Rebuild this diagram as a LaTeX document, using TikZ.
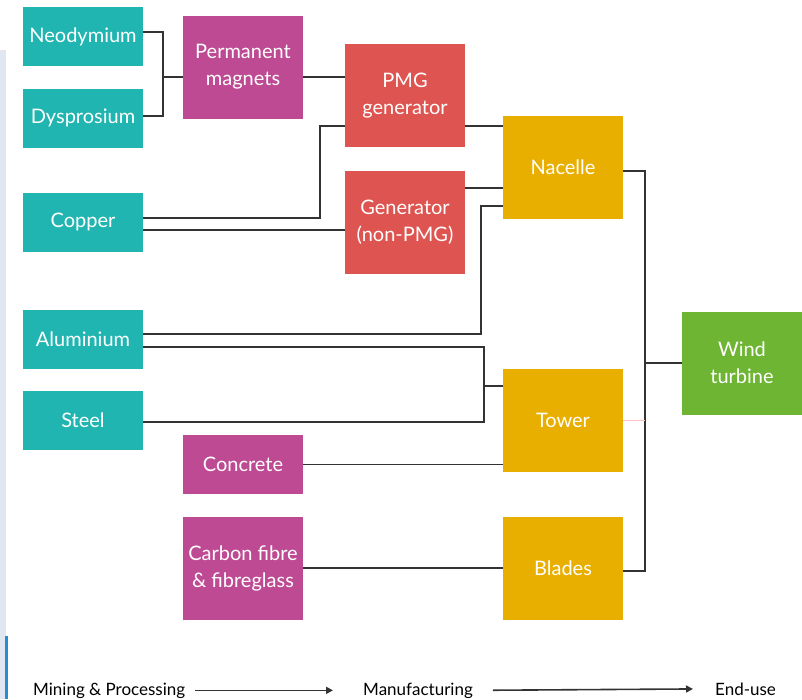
\documentclass[tikz,border=0pt]{standalone}
\usepackage{fontspec}
\setmainfont{Lato}
\usetikzlibrary{arrows.meta}
\definecolor{cteal}{HTML}{21B5B1}
\definecolor{cmag}{HTML}{BE4A93}
\definecolor{cred}{HTML}{DE5450}
\definecolor{cyel}{HTML}{E8AE00}
\definecolor{cgrn}{HTML}{6DB533}
\definecolor{cline}{HTML}{333333}
\definecolor{cstrip}{HTML}{E0E7F0}
\definecolor{cblue}{HTML}{2B8BD0}
\begin{document}
\begin{tikzpicture}[x=1pt,y=-1pt,
  box/.style={draw=none, minimum width=120pt, text=white, inner sep=0pt,
    font=\fontsize{20}{27}\selectfont, align=center},
  small/.style={box, minimum height=59pt},
  big/.style={box, minimum height=103pt},
  conn/.style={draw=cline, line width=1.8pt},
  lab/.style={inner sep=0pt, font=\fontsize{17}{20}\selectfont, text=black},
  arr/.style={draw=cline, line width=1.6pt, -{Triangle[length=7pt,width=7pt]}}]
\useasboundingbox (0,0) rectangle (802,699);
% screenshot edge
\fill[cstrip] (0,50) rectangle (6,699);
\fill[cblue] (5,636) rectangle (7.5,699);
% nodes
\node[small, fill=cteal] (neo) at (83,36.5) {Neodymium};
\node[small, fill=cteal] (dys) at (83,118) {Dysprosium};
\node[small, fill=cteal] (cu) at (83,222) {Copper};
\node[small, fill=cteal] (al) at (83,339) {Aluminium};
\node[small, fill=cteal] (st) at (83,420) {Steel};
\node[big, fill=cmag] (pm) at (243,67) {Permanent\\magnets};
\node[small, fill=cmag] (con) at (243,464.5) {Concrete};
\node[big, fill=cmag] (cf) at (243,568) {Carbon fibre\\\& fibreglass};
\node[big, fill=cred] (pmg) at (405,95.5) {PMG\\generator};
\node[big, fill=cred] (gen) at (405,222) {Generator\\(non-PMG)};
\node[big, fill=cyel] (nac) at (563,167) {Nacelle};
\node[big, fill=cyel] (tow) at (563,420) {Tower};
\node[big, fill=cyel] (bl) at (563,568) {Blades};
\node[big, fill=cgrn] (wt) at (742,363) {Wind\\turbine};
% routing points
\coordinate (a1) at (163,32);
\coordinate (a2) at (163,116);
\coordinate (a3) at (163,77);
\coordinate (c1) at (320,218);
\coordinate (c2) at (320,126);
\coordinate (c3) at (0,230);
\coordinate (g1) at (0,188);
\coordinate (al1) at (481,334);
\coordinate (al2) at (481,206);
\coordinate (t1) at (484,347);
\coordinate (t2) at (484,422);
\coordinate (t3) at (484,386);
\coordinate (r1) at (645,171);
\coordinate (r2) at (645,571);
\coordinate (r3) at (645,363);
\coordinate (r4) at (645,420);
% connectors
\draw[conn] (neo.east |- a1) -- (a1) -- (a2) -- (dys.east |- a2);
\draw[conn] (a3) -- (pm.west |- a3);
\draw[conn] (pm.east |- a3) -- (pmg.west |- a3);
\draw[conn] (cu.east |- c1) -- (c1) -- (c2) -- (pmg.west |- c2);
\draw[conn] (cu.east |- c3) -- (gen.west |- c3);
\draw[conn] (pmg.east |- c2) -- (nac.west |- c2);
\draw[conn] (gen.east |- g1) -- (nac.west |- g1);
\draw[conn] (al.east |- al1) -- (al1) -- (al2) -- (nac.west |- al2);
\draw[conn] (al.east |- t1) -- (t1) -- (t2) -- (st.east |- t2);
\draw[conn] (t3) -- (tow.west |- t3);
\draw[conn] (con.east) -- (tow.west |- con.east);
\draw[conn] (cf.east) -- (bl.west);
\draw[conn] (nac.east |- r1) -- (r1) -- (r2) -- (bl.east |- r2);
\draw[conn] (r3) -- (wt.west |- r3);
\draw[draw=red!25, line width=0.8pt] (tow.east |- r4) -- (r4);
% stage labels
\node[lab, anchor=base west] (mp) at (33,695) {Mining \& Processing};
\node[lab, anchor=base west] (man) at (363,695) {Manufacturing};
\node[lab, anchor=base west] (eu) at (715,695) {End-use};
\draw[arr, shorten <=10pt, shorten >=30pt] (mp.east) -- (man.west);
\draw[arr, shorten <=20pt, shorten >=22pt] (man.east) -- (eu.west);
\end{tikzpicture}
\end{document}
